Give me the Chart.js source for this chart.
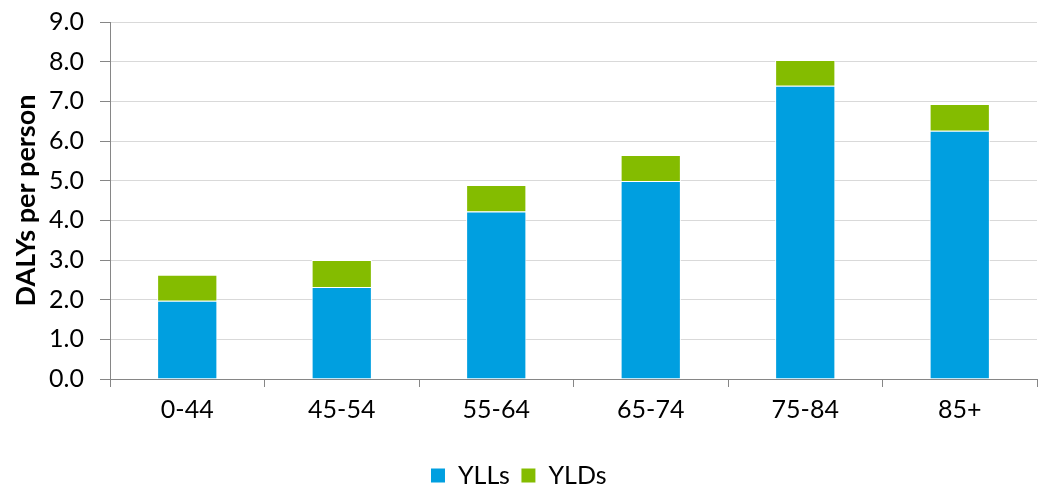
<!DOCTYPE html>
<html><head><meta charset="utf-8">
<script src="https://cdn.jsdelivr.net/npm/chart.js@4"></script>
<style>html,body{margin:0;padding:0;background:#fff}#wrap{width:1040px;height:492px}</style>
</head><body><div id="wrap"><canvas id="c" width="1040" height="492"></canvas></div>
<script>
const categories = ["0-44","45-54","55-64","65-74","75-84","85+"];
const yllValues = [1.97, 2.32, 4.22, 4.99, 7.39, 6.26];
const yldValues = [0.66, 0.68, 0.67, 0.66, 0.65, 0.67];
const seriesNames = ["YLLs","YLDs"];
const yTitle = "DALYs per person";

const FONT = "Lato, 'Open Sans', sans-serif";
new Chart(document.getElementById('c'), {
  type: 'bar',
  data: {
    labels: categories,
    datasets: [
      {label: seriesNames[0], data: yllValues, backgroundColor: '#009FE0', borderColor: '#ffffff', borderWidth: 1, barPercentage: 0.78, categoryPercentage: 0.5},
      {label: seriesNames[1], data: yldValues, backgroundColor: '#84BC00', borderColor: '#ffffff', borderWidth: 1, barPercentage: 0.78, categoryPercentage: 0.5}
    ]
  },
  options: {
    responsive: false, animation: false, devicePixelRatio: 1,
    layout: {padding: {top: 22, right: 3, left: 0, bottom: -6}},
    plugins: {
      tooltip: {enabled: false},
      legend: {position: 'bottom', labels: {boxWidth: 15, boxHeight: 15, padding: 11, color: '#000', font: {family: FONT, size: 25}}}
    },
    scales: {
      x: {
        stacked: true,
        grid: {display: true, drawOnChartArea: false, offset: true, tickColor: '#868686', tickLength: 8},
        border: {color: '#868686', width: 1},
        ticks: {color: '#000', font: {family: FONT, size: 25}, padding: 8},
        afterFit: s => { s.height = 73; s.paddingLeft = 0; s.paddingRight = 0; }
      },
      y: {
        stacked: true, min: 0, max: 9,
        grid: {color: '#d9d9d9', lineWidth: 1, tickColor: '#868686', tickLength: 10},
        border: {color: '#868686', width: 1},
        ticks: {stepSize: 1, color: '#000', font: {family: FONT, size: 25}, padding: 16, callback: v => v.toFixed(1)},
        title: {display: true, text: yTitle, color: '#000', font: {family: FONT, size: 27, weight: 'bold'}, padding: {top: 10, bottom: 4}},
        afterFit: s => { s.width = 110; s.paddingTop = 0; s.paddingBottom = 0; }
      }
    }
  }
});
</script></body></html>
